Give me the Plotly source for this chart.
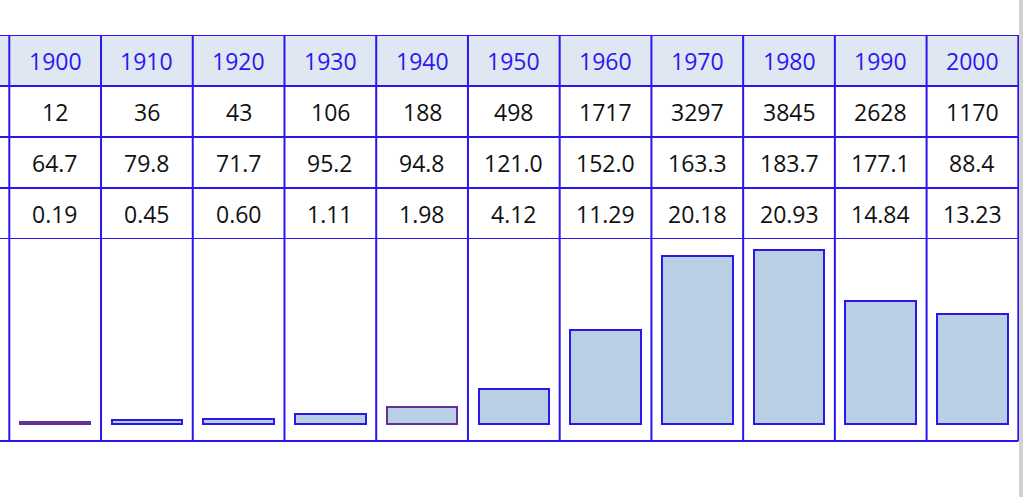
import plotly.graph_objects as go

years = ["1900", "1910", "1920", "1930", "1940", "1950", "1960", "1970", "1980", "1990", "2000"]
row1 = ["12", "36", "43", "106", "188", "498", "1717", "3297", "3845", "2628", "1170"]
row2 = ["64.7", "79.8", "71.7", "95.2", "94.8", "121.0", "152.0", "163.3", "183.7", "177.1", "88.4"]
row3 = [0.19, 0.45, 0.60, 1.11, 1.98, 4.12, 11.29, 20.18, 20.93, 14.84, 13.23]
bar_line_colors = ["#64309c", "#2b17ee", "#2b17ee", "#2b17ee", "#64309c", "#2b17ee",
                   "#2b17ee", "#2b17ee", "#2b17ee", "#2b17ee", "#2b17ee"]

W, H = 1023, 497
LINE = "#2b17ee"
HEAD_FILL = "#dee7f2"
BAR_FILL = "#b9cfe3"
FONT = "Open Sans"

col_px = 91.73
left_px = 9.3
x0 = -0.5 - left_px / col_px
x1 = x0 + W / col_px

def py(p):
    return 1 - p / H

table_top, table_bot, bar_bot = py(35), py(239), py(441)

n = len(years)
xs = list(range(n))

fig = go.Figure()
fig.add_trace(go.Bar(
    x=xs, y=row3, width=0.77,
    marker=dict(color=BAR_FILL, line=dict(color=bar_line_colors, width=2)),
    hoverinfo="skip", showlegend=False,
))

shapes = []
shapes.append(dict(type="rect", xref="x", yref="y2", x0=x0, x1=10.5, y0=0, y1=1,
                   fillcolor=HEAD_FILL, line=dict(width=0), layer="below"))
for r in range(5):
    shapes.append(dict(type="line", xref="x", yref="y2", x0=x0, x1=10.5, y0=r, y1=r,
                       line=dict(color=LINE, width=2)))
shapes.append(dict(type="line", xref="x", yref="paper", x0=x0, x1=10.5, y0=bar_bot, y1=bar_bot,
                   line=dict(color=LINE, width=2)))
for i in range(n + 1):
    xv = i - 0.5
    shapes.append(dict(type="line", xref="x", yref="paper", x0=xv, x1=xv, y0=bar_bot, y1=table_top,
                       line=dict(color=LINE, width=2)))
shapes.append(dict(type="rect", xref="paper", yref="paper", x0=1019 / W, x1=1, y0=0, y1=1,
                   fillcolor="#d2d2d2", line=dict(width=0)))

annotations = []
rows = [(years, LINE), (row1, "#111111"), (row2, "#111111"), ([f"{v:.2f}" for v in row3], "#111111")]
for r, (vals, col) in enumerate(rows):
    for i, v in enumerate(vals):
        annotations.append(dict(x=i, y=r + 0.5, xref="x", yref="y2", text=v, showarrow=False,
                                font=dict(family=FONT, size=23, color=col)))

base_px = 423.5
scale = 8.28
fig.update_layout(
    width=W, height=H,
    margin=dict(l=0, r=0, t=0, b=0),
    paper_bgcolor="white", plot_bgcolor="rgba(0,0,0,0)",
    xaxis=dict(range=[x0, x1], visible=False, fixedrange=True),
    yaxis=dict(domain=[bar_bot, table_bot],
               range=[-(441 - base_px) / scale, (base_px - 239) / scale],
               visible=False, fixedrange=True),
    yaxis2=dict(domain=[table_bot, table_top], range=[4, 0], visible=False, fixedrange=True,
                anchor="x"),
    shapes=shapes,
    annotations=annotations,
    bargap=0,
)
fig.write_html("out.html", config={"displayModeBar": False},
               post_script="document.body.style.margin='0';document.body.style.overflow='hidden';")
